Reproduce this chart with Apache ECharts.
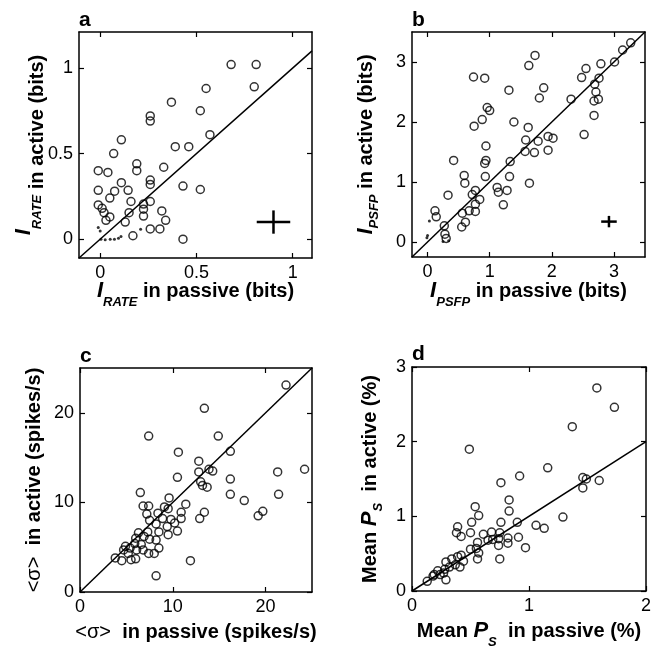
<!DOCTYPE html>
<html>
<head>
<meta charset="utf-8">
<script src="https://cdn.jsdelivr.net/npm/echarts@6/dist/echarts.min.js"></script>
<style>
  html, body { margin: 0; background: #fff; }
  #chart { width: 660px; height: 650px; }
</style>
</head>
<body>
<div id="chart"></div>
<script>
const FONT = '"Liberation Sans", Arial, Helvetica, sans-serif';

// Panel a : I_RATE passive vs active (bits)
const rateCircles = [
  [0.68, 1.02], [0.81, 1.02], [0.80, 0.89], [0.55, 0.88], [0.37, 0.80], [0.52, 0.75],
  [0.26, 0.72], [0.26, 0.69], [0.57, 0.61], [0.11, 0.58], [0.39, 0.54], [0.46, 0.54],
  [0.07, 0.50], [-0.01, 0.40], [0.04, 0.39], [0.19, 0.44], [0.19, 0.40], [0.33, 0.42],
  [0.43, 0.31], [0.52, 0.29], [0.11, 0.33], [0.075, 0.28], [-0.01, 0.285], [0.145, 0.285],
  [0.26, 0.345], [0.26, 0.32], [0.16, 0.22], [0.05, 0.24], [-0.01, 0.20], [0.01, 0.18],
  [0.02, 0.155], [0.03, 0.11], [0.05, 0.13], [0.15, 0.155], [0.225, 0.205], [0.225, 0.175],
  [0.26, 0.22], [0.32, 0.165], [0.34, 0.11], [0.13, 0.10], [0.225, 0.135], [0.26, 0.06],
  [0.31, 0.06], [0.43, 0.0], [0.17, 0.02]
];
const rateDots = [
  [-0.01, 0.068], [0.0, 0.048], [0.004, 0.0], [0.026, -0.004], [0.052, 0.0],
  [0.074, 0.0], [0.095, 0.006], [0.108, 0.016], [0.21, 0.058]
];
const rateErr = [[0.90, 0.10, 0.087, 0.068]]; // x, y, demi-largeur, demi-hauteur
const rateTicks = [0, 0.5, 1];

// Panel b : I_PSFP
const psfpCircles = [
  [3.27, 3.32], [3.14, 3.20], [3.01, 3.00], [2.79, 2.97], [1.73, 3.11], [1.63, 2.94],
  [0.74, 2.75], [0.92, 2.73], [1.31, 2.53], [1.87, 2.57], [1.80, 2.40], [2.31, 2.38],
  [2.55, 2.89], [2.48, 2.74], [2.76, 2.73], [2.69, 2.63], [2.71, 2.50], [2.75, 2.38],
  [2.68, 2.35], [2.68, 2.11], [2.52, 1.79], [0.96, 2.24], [1.00, 2.19], [0.88, 2.04],
  [0.75, 1.93], [1.39, 2.00], [1.62, 1.91], [1.58, 1.70], [1.94, 1.76], [2.02, 1.73],
  [1.78, 1.68], [0.94, 1.60], [1.57, 1.51], [1.72, 1.49], [1.94, 1.53], [0.42, 1.36],
  [0.94, 1.36], [0.92, 1.31], [1.33, 1.34], [0.59, 1.11], [0.60, 0.98], [0.93, 1.09],
  [1.32, 1.09], [1.64, 0.98], [0.33, 0.78], [0.72, 0.79], [0.77, 0.86], [1.12, 0.91],
  [1.14, 0.83], [1.28, 0.86], [0.84, 0.71], [0.77, 0.63], [1.22, 0.62], [0.56, 0.48],
  [0.67, 0.52], [0.77, 0.51], [0.12, 0.52], [0.14, 0.42], [0.27, 0.27], [0.61, 0.33],
  [0.55, 0.25], [0.28, 0.13], [0.30, 0.06]
];
const psfpDots = [[0.03, 0.35], [-0.01, 0.07], [0.0, 0.11], [0.25, 0.01], [0.34, 0.02]];
const psfpErr = [[2.92, 0.34, 0.125, 0.095]];
const psfpTicks = [0, 1, 2, 3];

// Panel c : <sigma> (spikes/s)
const sigmaCircles = [
  [22.2, 23.1], [13.4, 20.5], [7.4, 17.4], [14.9, 17.4], [10.6, 15.6], [16.2, 15.7],
  [12.8, 14.6], [13.9, 13.7], [14.3, 13.5], [12.8, 13.4], [24.2, 13.7], [21.3, 13.4],
  [10.5, 12.8], [16.2, 12.6], [13.0, 12.3], [13.2, 11.9], [13.7, 11.7], [6.5, 11.1],
  [16.2, 10.9], [21.4, 10.9], [17.7, 10.2], [9.6, 10.5], [11.4, 9.8], [6.8, 9.6],
  [7.4, 9.6], [9.1, 9.5], [9.5, 9.3], [19.7, 9.0], [19.2, 8.5], [10.9, 8.9],
  [13.4, 8.9], [10.9, 8.2], [12.9, 8.2], [7.2, 8.7], [8.4, 8.8], [7.5, 8.0],
  [8.9, 8.2], [9.8, 8.1], [10.2, 7.7], [8.2, 7.6], [9.4, 7.3], [10.5, 6.8],
  [8.5, 6.7], [9.5, 6.4], [7.3, 6.7], [6.3, 6.6], [6.9, 6.2], [7.5, 5.9],
  [8.2, 5.8], [6.0, 6.0], [5.9, 5.4], [6.6, 5.3], [4.9, 5.1], [4.7, 4.7],
  [5.4, 4.9], [6.1, 4.7], [6.8, 4.7], [8.5, 4.9], [7.4, 4.3], [8.0, 4.3],
  [5.2, 4.3], [3.8, 3.8], [4.5, 3.5], [5.5, 3.6], [6.0, 3.7], [11.9, 3.5],
  [8.2, 1.8]
];
const sigmaTicks = [0, 10, 20];

// Panel d : Mean P_S (%)
const psCircles = [
  [1.58, 2.72], [1.73, 2.46], [1.37, 2.20], [0.49, 1.90], [1.16, 1.65], [0.92, 1.54],
  [1.46, 1.52], [1.49, 1.50], [1.60, 1.48], [0.76, 1.45], [1.46, 1.38], [0.54, 1.13],
  [0.83, 1.22], [0.83, 1.07], [0.57, 1.01], [0.51, 0.92], [0.76, 0.92], [0.90, 0.92],
  [1.29, 0.99], [1.06, 0.88], [1.13, 0.84], [0.39, 0.86], [0.38, 0.78], [0.42, 0.73],
  [0.50, 0.78], [0.68, 0.79], [0.61, 0.76], [0.75, 0.78], [0.91, 0.72], [0.56, 0.65],
  [0.65, 0.68], [0.69, 0.69], [0.74, 0.70], [0.82, 0.71], [0.82, 0.64], [0.74, 0.61],
  [0.97, 0.58], [0.50, 0.56], [0.55, 0.57], [0.57, 0.51], [0.56, 0.43], [0.75, 0.43],
  [0.42, 0.48], [0.39, 0.46], [0.34, 0.43], [0.44, 0.40], [0.41, 0.32], [0.29, 0.39],
  [0.37, 0.35], [0.32, 0.32], [0.28, 0.29], [0.22, 0.27], [0.27, 0.24], [0.29, 0.15],
  [0.19, 0.22], [0.24, 0.22], [0.18, 0.20], [0.13, 0.13]
];
const psXTicks = [0, 1, 2];
const psYTicks = [0, 1, 2, 3];

// Styles des titres d'axes (indice via rich text)
function richStyle(line, iAlign, sAlign) {
  const base = { fontFamily: FONT, color: '#000' };
  return {
    m: Object.assign({ fontSize: 20, fontWeight: 'bold', lineHeight: line, verticalAlign: 'middle' }, base),
    n: Object.assign({ fontSize: 20, fontWeight: 'normal', lineHeight: line, verticalAlign: 'middle' }, base),
    i: Object.assign({ fontSize: 22, fontWeight: 'bold', fontStyle: 'italic', verticalAlign: iAlign }, base),
    s: Object.assign({ fontSize: 13, fontWeight: 'bold', fontStyle: 'italic', verticalAlign: sAlign }, base)
  };
}
const richX = richStyle(36, 'middle', 'bottom');
const richY = richStyle(30, 'middle', 'bottom');
const richYa = richStyle(48, 'top', 'middle'); // panel a : I surélevé

const panels = [
  {
    letter: 'a', titleTop: 10, grid: { left: 79, top: 32, width: 233, height: 226 },
    x: [-0.11, 1.1], y: [-0.11, 1.21], xTicks: rateTicks, yTicks: rateTicks,
    xName: '{i|I}{s|RATE}{m| in passive (bits)}', yName: '{i|I}{s|RATE}{m| in active (bits)}',
    xGap: 15, yGap: 18, yRich: richYa, circles: rateCircles, dots: rateDots, err: rateErr
  },
  {
    letter: 'b', titleTop: 10, grid: { left: 412, top: 32, width: 233, height: 225 },
    x: [-0.25, 3.5], y: [-0.25, 3.5], xTicks: psfpTicks, yTicks: psfpTicks,
    xName: '{i|I}{s|PSFP}{m| in passive (bits)}', yName: '{i|I}{s|PSFP}{m| in active (bits)}',
    xGap: 16, yGap: 31, yRich: richY, circles: psfpCircles, dots: psfpDots, err: psfpErr
  },
  {
    letter: 'c', titleTop: 346, grid: { left: 80, top: 368, width: 232, height: 224 },
    x: [0, 25], y: [0, 25], xTicks: sigmaTicks, yTicks: sigmaTicks,
    xName: '{n|<σ>}{m|  in passive (spikes/s)}', yName: '{n|<σ>}{m|  in active (spikes/s)}',
    xGap: 22, yGap: 31, yRich: richY, circles: sigmaCircles
  },
  {
    letter: 'd', titleTop: 344, grid: { left: 412, top: 367, width: 234, height: 225 },
    x: [0, 2], y: [0, 3], xTicks: psXTicks, yTicks: psYTicks,
    xName: '{m|Mean }{i|P}{s|S}{m|  in passive (%)}', yName: '{m|Mean }{i|P}{s|S}{m|  in active (%)}',
    xGap: 22, yGap: 27, yRich: richY, circles: psCircles
  }
];

function makeAxis(pos, gridIndex, range, ticks, labels, name, gap, rich) {
  return {
    type: 'value', gridIndex: gridIndex, position: pos,
    min: range[0], max: range[1],
    name: labels ? name : '', nameLocation: 'middle', nameGap: gap,
    nameMoveOverlap: false,
    nameTextStyle: { rich: rich || {} },
    axisLine: { show: true, onZero: false, lineStyle: { color: '#000', width: 1.5 } },
    axisTick: { show: true, inside: true, length: 5, customValues: ticks, lineStyle: { color: '#000', width: 1.2 } },
    axisLabel: {
      show: labels, customValues: ticks, color: '#000', fontSize: 18, fontFamily: FONT, margin: 6,
      formatter: v => String(v)
    },
    splitLine: { show: false }
  };
}

const grids = [], xAxes = [], yAxes = [], series = [], titles = [];

panels.forEach((p, i) => {
  grids.push(p.grid);
  xAxes.push(makeAxis('bottom', i, p.x, p.xTicks, true, p.xName, p.xGap, richX));
  xAxes.push(makeAxis('top', i, p.x, p.xTicks, false));
  yAxes.push(makeAxis('left', i, p.y, p.yTicks, true, p.yName, p.yGap, p.yRich));
  yAxes.push(makeAxis('right', i, p.y, p.yTicks, false));

  const xa = 2 * i, ya = 2 * i;
  // droite d'identite
  const lo = Math.max(p.x[0], p.y[0]), hi = Math.min(p.x[1], p.y[1]);
  series.push({
    type: 'line', xAxisIndex: xa, yAxisIndex: ya, data: [[lo, lo], [hi, hi]],
    symbol: 'none', silent: true, lineStyle: { color: '#000', width: 1.5 }, z: 1
  });
  series.push({
    type: 'scatter', xAxisIndex: xa, yAxisIndex: ya, data: p.circles,
    symbol: 'circle', symbolSize: 8, z: 2,
    itemStyle: { color: 'rgba(0,0,0,0)', borderColor: '#000', borderWidth: 1.5 }
  });
  if (p.dots) {
    series.push({
      type: 'scatter', xAxisIndex: xa, yAxisIndex: ya, data: p.dots,
      symbol: 'circle', symbolSize: 3, itemStyle: { color: '#000' }
    });
  }
  if (p.err) {
    // croix d'erreur typique
    series.push({
      type: 'custom', xAxisIndex: xa, yAxisIndex: ya, data: p.err,
      renderItem: function (params, api) {
        const x = api.value(0), y = api.value(1), dx = api.value(2), dy = api.value(3);
        const h1 = api.coord([x - dx, y]), h2 = api.coord([x + dx, y]);
        const v1 = api.coord([x, y - dy]), v2 = api.coord([x, y + dy]);
        const st = { stroke: '#000', lineWidth: 2.5 };
        return {
          type: 'group', children: [
            { type: 'line', shape: { x1: h1[0], y1: h1[1], x2: h2[0], y2: h2[1] }, style: st },
            { type: 'line', shape: { x1: v1[0], y1: v1[1], x2: v2[0], y2: v2[1] }, style: st }
          ]
        };
      }
    });
  }
  titles.push({
    text: p.letter, left: p.grid.left, top: p.titleTop, padding: 0,
    textStyle: { fontSize: 21, fontWeight: 'bold', fontFamily: FONT, color: '#000' }
  });
});

const chart = echarts.init(document.getElementById('chart'), null, { renderer: 'canvas' });
chart.setOption({
  backgroundColor: '#fff',
  animation: false,
  title: titles,
  grid: grids,
  xAxis: xAxes,
  yAxis: yAxes,
  series: series
});
</script>
</body>
</html>
